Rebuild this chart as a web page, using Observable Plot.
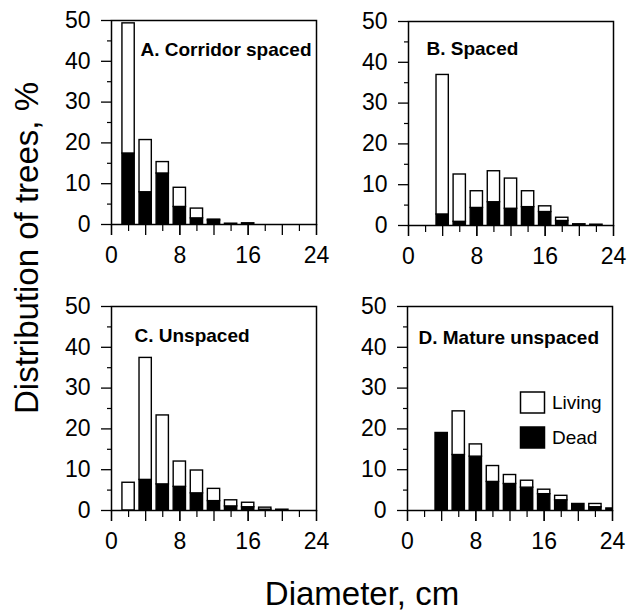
<!DOCTYPE html>
<html><head><meta charset="utf-8">
<script src="https://cdn.jsdelivr.net/npm/d3@7"></script>
<script src="https://cdn.jsdelivr.net/npm/@observablehq/plot@0.6"></script>
<style>
html,body{margin:0;padding:0;background:#fff;}
#wrap{position:relative;width:631px;height:612px;overflow:hidden;font-family:"Liberation Sans",Arial,Helvetica,sans-serif;color:#000;background:#fff;}
#wrap svg.panel{position:absolute;}
#overlay{position:absolute;left:0;top:0;pointer-events:none;}
</style></head><body><div id="wrap"></div>
<script>
// Diameter classes (cm), bar centres
const diameters = [2, 4, 6, 8, 10, 12, 14, 16, 18, 20, 22, 24];
const panelTitles = ["A. Corridor spaced", "B. Spaced", "C. Unspaced", "D. Mature unspaced"];
const statuses = ["Living", "Dead"];

// % of trees, living and dead, per diameter class
const livingA = [31.9, 12.8, 2.8, 4.7, 2.4, 0.2, 0.2, 0.3, 0, 0, 0, 0];
const deadA   = [17.4, 7.9, 12.5, 4.3, 1.5, 1.0, 0, 0, 0, 0, 0, 0];
const livingB = [0, 34.2, 11.6, 4.1, 7.6, 7.4, 3.9, 1.4, 0.8, 0.3, 0.2, 0];
const deadB   = [0, 2.7, 0.9, 4.3, 5.7, 4.1, 4.5, 3.3, 1.1, 0, 0, 0];
const livingC = [6.8, 29.9, 16.9, 6.2, 5.6, 3.0, 1.5, 1.1, 0.5, 0.2, 0, 0];
const deadC   = [0, 7.5, 6.4, 5.8, 4.2, 2.3, 1.0, 0.8, 0.2, 0, 0, 0];
const livingD = [0, 0, 10.7, 3.0, 3.9, 2.2, 1.7, 1.1, 1.1, 0, 0.8, 0];
const deadD   = [0, 19.0, 13.6, 13.2, 7.0, 6.5, 5.6, 4.0, 2.5, 1.6, 0.8, 0.5];

// Axis ticks
const yTicks = [0, 10, 20, 30, 40, 50];
const yMinorTicks = [5, 15, 25, 35, 45];
const xTickLabels = [0, 8, 16, 24];
const xMajorTicks = [0, 4, 8, 12, 16, 20, 24];
const xMinorTicks = [2, 6, 10, 14, 18, 22];
const yAxisTitle = "Distribution of trees, %";
const xAxisTitle = "Diameter, cm";

const FONT = "Liberation Sans, Arial, Helvetica, sans-serif";
const ML = 55, MR = 10, MT = 10, MB = 45, FW = 205, FH = 204;
const HALF = 0.72; // half bar width in cm

function panel(title, living, dead, frameLeft, frameTop, tdx, tdy) {
  const rows = [];
  diameters.forEach((d, i) => {
    if (dead[i] > 0) rows.push({d, status: "Dead", y1: 0, y2: dead[i]});
    if (living[i] > 0) rows.push({d, status: "Living", y1: dead[i], y2: dead[i] + living[i]});
  });
  const svg = Plot.plot({
    width: ML + FW + MR,
    height: MT + FH + MB,
    marginLeft: ML, marginRight: MR, marginTop: MT, marginBottom: MB,
    style: {fontFamily: FONT, fontSize: "23px", color: "black", background: "transparent", overflow: "visible"},
    x: {domain: [0, 24]},
    y: {domain: [0, 50]},
    color: {domain: statuses, range: ["white", "black"]},
    marks: [
      Plot.rect(rows, {x1: r => r.d - HALF, x2: r => r.d + HALF, y1: "y1", y2: "y2",
        fill: "status", stroke: "black", strokeWidth: 1.4, clip: true}),
      Plot.frame({stroke: "black", strokeWidth: 1.5}),
      Plot.axisY(yTicks, {anchor: "left", tickSize: 10, tickPadding: 11, fontSize: 23, label: null, strokeWidth: 1.3}),
      Plot.axisY(yMinorTicks, {anchor: "left", tickSize: 4, tickFormat: () => "", label: null, strokeWidth: 1.2}),
      Plot.axisX(xTickLabels, {anchor: "bottom", tickSize: 11, tickPadding: 11, fontSize: 23, label: null, strokeWidth: 1.3}),
      Plot.axisX(xMajorTicks, {anchor: "bottom", tickSize: 11, tickFormat: () => "", label: null, strokeWidth: 1.3}),
      Plot.axisX(xMinorTicks, {anchor: "bottom", tickSize: 7, tickFormat: () => "", label: null, strokeWidth: 1.2}),
      Plot.text([title], {text: d => d, frameAnchor: "top-left", textAnchor: "start", lineAnchor: "top",
        dx: tdx, dy: tdy, fontSize: 19, fontWeight: "bold", fill: "black"})
    ]
  });
  svg.classList.add("panel");
  svg.style.left = (frameLeft - ML) + "px";
  svg.style.top = (frameTop - MT) + "px";
  return svg;
}

const wrap = document.getElementById("wrap");
wrap.appendChild(panel(panelTitles[0], livingA, deadA, 111, 20, 29, 21.5));
wrap.appendChild(panel(panelTitles[1], livingB, deadB, 408, 20.5, 18, 20));
wrap.appendChild(panel(panelTitles[2], livingC, deadC, 111, 305.5, 23, 22));
wrap.appendChild(panel(panelTitles[3], livingD, deadD, 407, 306, 11, 23.5));

// Overlay: axis titles and legend
const NS = "http://www.w3.org/2000/svg";
const ov = document.createElementNS(NS, "svg");
ov.setAttribute("id", "overlay");
ov.setAttribute("width", 631); ov.setAttribute("height", 612);
ov.style.fontFamily = FONT;
function txt(s, attrs) {
  const t = document.createElementNS(NS, "text");
  for (const k in attrs) t.setAttribute(k, attrs[k]);
  t.textContent = s; ov.appendChild(t); return t;
}
function rect(attrs) {
  const r = document.createElementNS(NS, "rect");
  for (const k in attrs) r.setAttribute(k, attrs[k]);
  ov.appendChild(r);
}
txt(yAxisTitle, {transform: "translate(38,248) rotate(-90)", "text-anchor": "middle", "font-size": 33, fill: "black"});
txt(xAxisTitle, {x: 362, y: 605, "text-anchor": "middle", "font-size": 33, fill: "black"});
const legendFill = ["white", "black"];
statuses.forEach((s, i) => {
  rect({x: 520.5, y: 392 + i * 35, width: 24, height: 21, fill: legendFill[i], stroke: "black", "stroke-width": 1.5});
  txt(s, {x: 552, y: 409 + i * 35, "font-size": 19, fill: "black"});
});
wrap.appendChild(ov);
</script></body></html>
